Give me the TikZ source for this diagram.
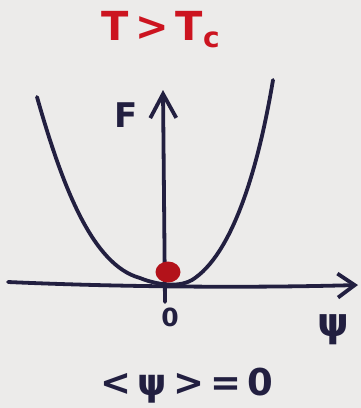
\documentclass[tikz,border=0pt]{standalone}
\usepackage{fontspec}
\setmainfont{DejaVu Sans}
\usetikzlibrary{arrows.meta,shapes.geometric}
\definecolor{paper}{HTML}{ECEBEA}
\definecolor{ink}{HTML}{221F40}
\definecolor{redink}{HTML}{CC1420}
\definecolor{dotred}{HTML}{B3121A}
\tikzset{
  pen/.style={draw=ink, line width=3.8pt, line cap=round, line join=round},
  label/.style={text=ink, inner sep=0pt},
}
\begin{document}
\begin{tikzpicture}[x=1pt,y=-1pt]
\fill[paper] (0,0) rectangle (361,408);
\useasboundingbox (0,0) rectangle (361,408);
% title
\node[text=redink, inner sep=0pt, font=\fontsize{40}{40}\selectfont\bfseries] (title) at (161,30) {T\,>\,T\textsubscript{c}};
% axes
\coordinate (hstart) at (8,282);
\coordinate (hend) at (358,285);
\coordinate (vstart) at (165,302);
\coordinate (vend) at (163,90);
\draw[pen, -{Straight Barb[length=17pt,width=24pt]}] (hstart) .. controls (120,287) and (250,288) .. (hend);
\draw[pen, -{Straight Barb[length=24pt,width=26pt]}] (vstart) -- (vend);
% free energy curve
\draw[pen] (37,97) .. controls (62,185) and (92,265) .. (140,278)
   .. controls (152,283) and (176,289) .. (192,280)
   .. controls (232,255) and (258,170) .. (273,80);
% minimum
\node[fill=dotred, ellipse, minimum width=25pt, minimum height=21pt, inner sep=0pt] (dot) at (168,272) {};
% labels
\node[label, font=\fontsize{34}{34}\selectfont\bfseries] (F) at (126,115) {F};
\node[label, font=\fontsize{25}{25}\selectfont\bfseries] (zero) at (170,317) {0};
\node[label, font=\fontsize{40}{40}\selectfont\bfseries] (psi) at (333,330) {ψ};
\node[label, font=\fontsize{37}{37}\selectfont\bfseries] (avg) at (187,386) {<\,ψ\,>\,=\,0};
\end{tikzpicture}
\end{document}
